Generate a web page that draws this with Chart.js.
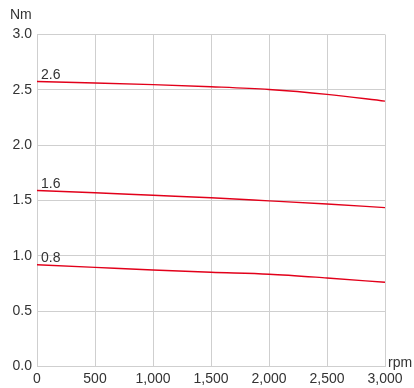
<!DOCTYPE html>
<html><head><meta charset="utf-8">
<script src="https://cdn.jsdelivr.net/npm/chart.js@4/dist/chart.umd.min.js"></script>
<style>html,body{margin:0;padding:0;background:#fff}#wrap{width:414px;height:388px}</style>
</head><body><div id="wrap"><canvas id="c" width="414" height="388"></canvas></div>
<script>
const rpm = [0, 500, 1000, 1500, 2000, 2500, 3000];
const torque26 = [2.575, 2.562, 2.547, 2.528, 2.503, 2.459, 2.398];
const torque16 = [1.590, 1.570, 1.547, 1.525, 1.497, 1.468, 1.436];
const torque08 = [0.920, 0.896, 0.872, 0.851, 0.834, 0.800, 0.761];
const seriesLabels = ['2.6', '1.6', '0.8'];
const xTitle = 'rpm', yTitle = 'Nm';

const font = {family: '"Liberation Sans", Arial, sans-serif', size: 14};
const textColor = '#333';
const toPts = v => rpm.map((x, i) => ({x, y: v[i]}));
const mk = (v, l) => ({label: l, data: toPts(v), borderColor: '#e2001a', borderWidth: 1.4, pointRadius: 0, cubicInterpolationMode: 'monotone', fill: false});

const labelPlugin = {
  id: 'labels',
  afterDraw(chart) {
    const ctx = chart.ctx, xs = chart.scales.x, ys = chart.scales.y;
    ctx.save();
    ctx.fillStyle = textColor;
    ctx.font = '14px "Liberation Sans", Arial, sans-serif';
    ctx.textBaseline = 'alphabetic';
    ctx.textAlign = 'left';
    chart.data.datasets.forEach(ds => {
      const p = ds.data[0];
      ctx.fillText(ds.label, xs.getPixelForValue(p.x) + 4, ys.getPixelForValue(p.y) - 3);
    });
    ctx.fillText(yTitle, 10, 19);
    ctx.fillText(xTitle, xs.right + 3, ys.bottom - 0);
    ctx.restore();
  }
};

new Chart(document.getElementById('c'), {
  type: 'line',
  data: {datasets: [mk(torque26, seriesLabels[0]), mk(torque16, seriesLabels[1]), mk(torque08, seriesLabels[2])]},
  options: {
    responsive: false, animation: false, devicePixelRatio: 1,
    layout: {padding: {left: 0, right: 29, top: 34.5, bottom: 0}},
    plugins: {legend: {display: false}, tooltip: {enabled: false}},
    scales: {
      x: {type: 'linear', min: 0, max: 3000,
        ticks: {stepSize: 500, font, color: textColor, padding: 4, maxRotation: 0,
          callback: v => v.toLocaleString('en-US')},
        grid: {color: '#cfcfcf', lineWidth: 1, drawTicks: false},
        border: {color: '#cfcfcf'},
        afterFit: s => { s.height = 21.5; }},
      y: {min: 0, max: 3, 
        ticks: {stepSize: 0.5, font, color: textColor, padding: 5, callback: v => v.toFixed(1)},
        grid: {color: '#cfcfcf', lineWidth: 1, drawTicks: false},
        border: {color: '#cfcfcf'},
        afterFit: s => { s.width = 37; }}
    }
  },
  plugins: [labelPlugin]
});
</script></body></html>
